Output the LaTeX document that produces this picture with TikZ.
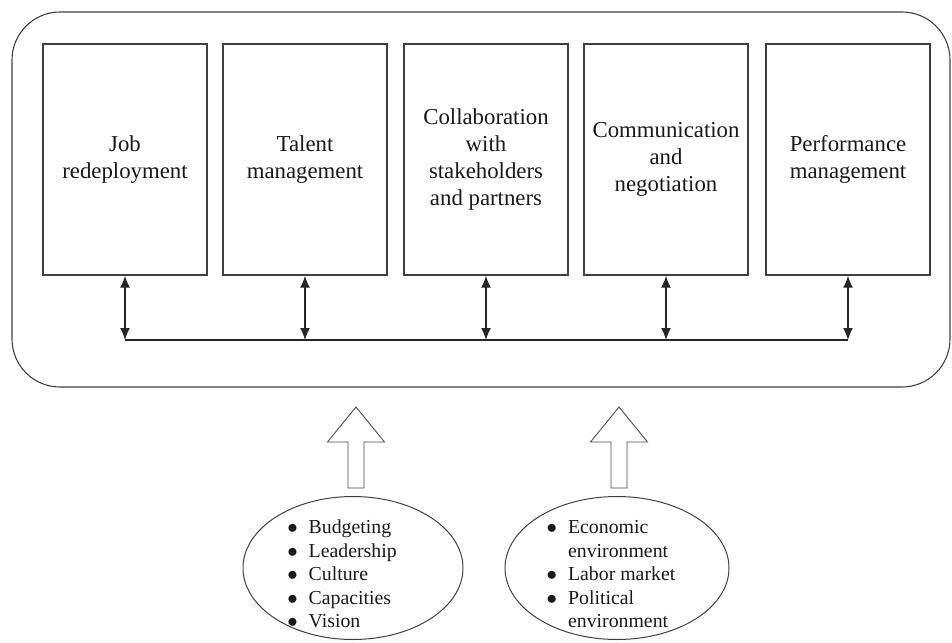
\documentclass[tikz,border=0pt]{standalone}
\usepackage{fontspec}
\setmainfont{Liberation Serif}
\usetikzlibrary{arrows.meta,shapes.geometric}
\newcommand{\bul}{$\bullet$}
\begin{document}
\begin{tikzpicture}[x=1pt,y=-1pt,
 frame/.style={draw=black!75, line width=1.1pt, rounded corners=48pt},
 boxnode/.style={draw=black!75, line width=1.4pt, minimum width=164pt, minimum height=231pt, align=center, font=\fontsize{22.8}{27}\selectfont, text=black!90, inner sep=0pt},
 link/.style={draw=black!85, line width=1.4pt},
 dbl/.style={link, {Latex[length=12pt,width=10pt]}-{Latex[length=12pt,width=10pt]}},
 oval/.style={ellipse, draw=black!75, line width=1pt},
 hollow/.style={draw=black!70, line width=0.9pt, fill=white},
 list/.style={font=\fontsize{19.8}{23.5}\selectfont, text=black!90, inner sep=0pt}
]
\useasboundingbox (0,0) rectangle (952,642);
\draw[frame] (12,12) rectangle (950,387);

\node[boxnode] (b1) at (125,159.5) {Job\\redeployment};
\node[boxnode] (b2) at (305,159.5) {Talent\\management};
\node[boxnode] (b3) at (486,159.5) {Collaboration\\with\\stakeholders\\and partners};
\node[boxnode] (b4) at (666,159.5) {Communication\\and\\negotiation};
\node[boxnode] (b5) at (848,159.5) {Performance\\management};

\coordinate (c1) at (125,340);
\coordinate (c2) at (305,340);
\coordinate (c3) at (486,340);
\coordinate (c4) at (666,340);
\coordinate (c5) at (848,340);
\foreach \i in {1,...,5} {\draw[dbl] (b\i.south) -- (c\i);}
\draw[link] (c1) -- (c5);

\begin{scope}[shift={(356,407)}]
\draw[hollow] (0,0) -- (28.5,35) -- (8,35) -- (8,81) -- (-8,81) -- (-8,35) -- (-28.5,35) -- cycle;
\end{scope}
\begin{scope}[shift={(619,407)}]
\draw[hollow] (0,0) -- (28.5,35) -- (8,35) -- (8,81) -- (-8,81) -- (-8,35) -- (-28.5,35) -- cycle;
\end{scope}

\node[oval, minimum width=220pt, minimum height=143pt] (e1) at (353,568) {};
\node[oval, minimum width=224pt, minimum height=143pt] (e2) at (617,568) {};

\node[list] (t1) at (342,576) {\begin{tabular}{@{}l@{\hspace{11pt}}l@{}}\bul&Budgeting\\\bul&Leadership\\\bul&Culture\\\bul&Capacities\\\bul&Vision\end{tabular}};
\node[list] (t2) at (611,576) {\begin{tabular}{@{}l@{\hspace{11pt}}l@{}}\bul&Economic\\&environment\\\bul&Labor market\\\bul&Political\\&environment\end{tabular}};
\end{tikzpicture}
\end{document}
